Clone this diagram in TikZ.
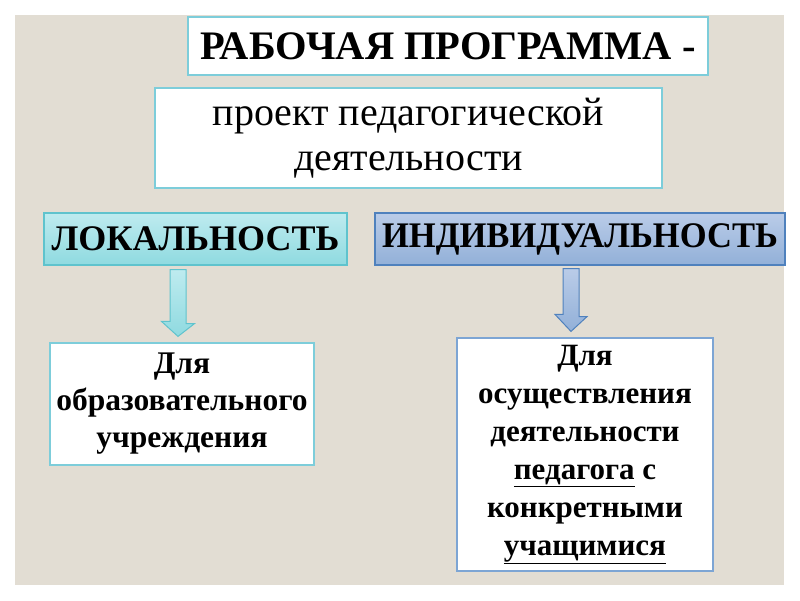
\documentclass[tikz,border=0pt]{standalone}
\usepackage{fontspec}
\setmainfont{Liberation Serif}
\newfontfamily\narrowfont[FakeStretch=0.96]{Liberation Serif}
\usetikzlibrary{calc}
\definecolor{SlideBeige}{RGB}{226,221,211}
\definecolor{FrameTeal}{RGB}{125,205,218}
\definecolor{FrameBlue}{RGB}{125,165,212}
\definecolor{LokTop}{RGB}{190,235,239}
\definecolor{LokBot}{RGB}{143,218,224}
\definecolor{LokLine}{RGB}{95,195,205}
\definecolor{IndTop}{RGB}{186,204,232}
\definecolor{IndBot}{RGB}{146,176,216}
\definecolor{IndLine}{RGB}{79,129,189}

\begin{document}
\begin{tikzpicture}[x=1pt, y=-1pt]
  \fill[white] (0,0) rectangle (800,600);
  \fill[SlideBeige] (15,15) rectangle (784,585);
  % top boxes
  \node[draw=FrameTeal, line width=1.2pt, fill=white, minimum width=520pt, minimum height=58pt, font=\fontsize{40.5}{42}\selectfont\bfseries] (title) at (448,46) {РАБОЧАЯ ПРОГРАММА -};
  \node[draw=FrameTeal, line width=1.2pt, fill=white, minimum width=507pt, minimum height=100pt, align=center, font=\fontsize{40}{45}\selectfont] (proj) at (408.5,138) {проект педагогической\\деятельности};
  % headers
  \node[draw=LokLine, line width=1.2pt, top color=LokTop, bottom color=LokBot, minimum width=303pt, minimum height=52pt, inner sep=0pt, font=\fontsize{36}{38}\selectfont\bfseries] (lok) at (195.5,239) {ЛОКАЛЬНОСТЬ};
  \node[draw=IndLine, line width=1.2pt, top color=IndTop, bottom color=IndBot, minimum width=410pt, minimum height=52pt, inner sep=0pt, font=\fontsize{36}{38}\selectfont\narrowfont\bfseries] (ind) at (580,239) {ИНДИВИДУАЛЬНОСТЬ};
  % bottom boxes
  \node[draw=FrameTeal, line width=1.2pt, fill=white, minimum width=264pt, minimum height=122pt, align=center, inner sep=0pt, font=\fontsize{31.5}{37}\selectfont\bfseries] (lokbox) at (182,404) {Для\\образовательного\\учреждения};
  \node[draw=FrameBlue, line width=1.2pt, fill=white, minimum width=256pt, minimum height=233pt, align=center, inner sep=0pt, font=\fontsize{31}{38}\selectfont\bfseries] (indbox) at (585,454.5) {Для\\осуществления\\деятельности\\\underline{педагога} с\\конкретными\\\underline{учащимися}};
  % block arrows
  \draw[LokLine, line width=1pt, top color=LokTop, bottom color=LokBot]
    ($(lok.south)+(-25.5,4)$) -- ++(16,0) -- ++(0,54) -- ++(8.5,0)
    -- ($(lokbox.north)+(-4,-6)$) -- ++(-16.5,-15) -- ++(8.5,0) -- cycle;
  \draw[IndLine, line width=1pt, top color=IndTop, bottom color=IndBot]
    ($(ind.south)+(-17,3)$) -- ++(16,0) -- ++(0,48) -- ++(8,0)
    -- ($(indbox.north)+(-14,-6)$) -- ++(-16,-17) -- ++(8,0) -- cycle;
\end{tikzpicture}
\end{document}
